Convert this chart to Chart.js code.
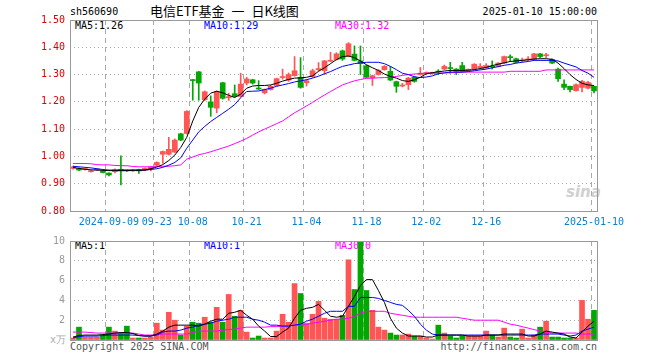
<!DOCTYPE html>
<html>
<head>
<meta charset="utf-8">
<script src="https://cdn.jsdelivr.net/npm/chart.js@4"></script>
<style>
body { margin: 0; background: #fff; }
#wrap { position: relative; width: 660px; height: 360px; overflow: hidden;
  font-family: "DejaVu Sans Mono", monospace; font-size: 10px; color: #000; }
#wrap div { position: absolute; white-space: nowrap; line-height: 12px; z-index: 0; }
canvas { position: absolute; left: 0; z-index: 1; }
</style>
</head>
<body>
<div id="wrap">
  <div style="left:70px;top:6px">sh560690</div>
  <div style="left:150px;top:3px;font-family:'Noto Sans CJK SC';font-size:13px;line-height:16px">电信ETF基金 <span style="padding:0 4px">一</span> 日K线图</div>
  <div style="right:63px;top:6px">2025-01-10 15:00:00</div>

  <div style="left:75px;top:20px">MA5:1.26</div>
  <div style="left:204px;top:20px;color:#0000ff">MA10:1.29</div>
  <div style="left:335px;top:20px;color:#ff00ff">MA30:1.32</div>

  <div style="left:75px;top:240px">MA5:1</div>
  <div style="left:204px;top:240px;color:#0000ff">MA10:1</div>
  <div style="left:335px;top:240px;color:#ff00ff">MA30:0</div>
  <div style="left:50px;top:334px;color:#aaa">x万</div>

  <div style="left:70px;top:341px;color:#555">Copyright 2025 SINA.COM</div>
  <div style="right:63px;top:341px;color:#555">http://finance.sina.com.cn</div>
  <div style="left:566px;top:186px;font-family:'DejaVu Sans';font-size:15px;font-weight:bold;font-style:italic;color:#d0d0d0">sina</div>

  <canvas id="k" width="660" height="232" style="top:0;width:660px;height:232px"></canvas>
  <canvas id="v" width="660" height="130" style="top:230px;width:660px;height:130px"></canvas>
</div>
<script>
// trading days shown on the chart
const dates = [
  '2024-08-30','2024-09-02','2024-09-03','2024-09-04','2024-09-05','2024-09-06',
  '2024-09-09','2024-09-10','2024-09-11','2024-09-12','2024-09-13',
  '2024-09-18','2024-09-19','2024-09-20',
  '2024-09-23','2024-09-24','2024-09-25','2024-09-26','2024-09-27',
  '2024-09-30',
  '2024-10-08','2024-10-09','2024-10-10','2024-10-11',
  '2024-10-14','2024-10-15','2024-10-16','2024-10-17','2024-10-18',
  '2024-10-21','2024-10-22','2024-10-23','2024-10-24','2024-10-25',
  '2024-10-28','2024-10-29','2024-10-30','2024-10-31','2024-11-01',
  '2024-11-04','2024-11-05','2024-11-06','2024-11-07','2024-11-08',
  '2024-11-11','2024-11-12','2024-11-13','2024-11-14','2024-11-15',
  '2024-11-18','2024-11-19','2024-11-20','2024-11-21','2024-11-22',
  '2024-11-25','2024-11-26','2024-11-27','2024-11-28','2024-11-29',
  '2024-12-02','2024-12-03','2024-12-04','2024-12-05','2024-12-06',
  '2024-12-09','2024-12-10','2024-12-11','2024-12-12','2024-12-13',
  '2024-12-16','2024-12-17','2024-12-18','2024-12-19','2024-12-20',
  '2024-12-23','2024-12-24','2024-12-25','2024-12-26','2024-12-27',
  '2024-12-30','2024-12-31',
  '2025-01-02','2025-01-03',
  '2025-01-06','2025-01-07','2025-01-08','2025-01-09','2025-01-10'
];

const tickDates = ['2024-09-09','2024-09-23','2024-10-08','2024-10-21','2024-11-04',
  '2024-11-18','2024-12-02','2024-12-16','2025-01-10'];
const tickText = ['2024-09-09','09-23','10-08','10-21','11-04','11-18','12-02','12-16','2025-01-10'];
const priceTickLabels = ['0.80','0.90','1.00','1.10','1.20','1.30','1.40','1.50'];
const volTickLabels = ['0','2','4','6','8','10'];

const opens = [
  0.956,0.956,0.952,0.944,0.950,0.947,0.939,0.944,0.953,0.948,
  0.947,0.952,0.950,0.955,0.968,1.008,1.008,1.016,1.083,1.084,
  1.281,1.310,1.208,1.200,1.177,1.270,1.215,1.230,1.220,1.269,
  1.281,1.250,1.233,1.245,1.260,1.289,1.280,1.296,1.290,1.270,
  1.293,1.318,1.314,1.349,1.355,1.387,1.368,1.375,1.350,1.332,
  1.288,1.300,1.318,1.312,1.274,1.258,1.263,1.290,1.300,1.304,
  1.303,1.311,1.320,1.324,1.320,1.333,1.316,1.320,1.325,1.325,
  1.330,1.330,1.342,1.364,1.358,1.350,1.354,1.356,1.376,1.369,
  1.356,1.320,1.265,1.257,1.241,1.253,1.250,1.257
];
const closes = [
  0.962,0.950,0.954,0.947,0.952,0.941,0.932,0.951,0.947,0.947,
  0.951,0.947,0.956,0.961,0.978,1.018,1.026,1.060,1.060,1.165,
  1.278,1.269,1.237,1.180,1.237,1.213,1.219,1.220,1.265,1.284,
  1.269,1.247,1.245,1.257,1.285,1.292,1.300,1.314,1.253,1.277,
  1.314,1.322,1.350,1.351,1.376,1.357,1.413,1.352,1.340,1.290,
  1.296,1.315,1.330,1.280,1.257,1.260,1.287,1.275,1.305,1.306,
  1.307,1.309,1.330,1.322,1.312,1.312,1.318,1.338,1.330,1.333,
  1.328,1.342,1.366,1.362,1.345,1.353,1.356,1.376,1.366,1.371,
  1.342,1.285,1.253,1.245,1.263,1.275,1.271,1.240
];
const highs = [
  0.965,0.958,0.956,0.949,0.954,0.948,0.940,0.955,1.002,0.950,
  0.953,0.954,0.958,0.964,0.980,1.020,1.070,1.064,1.085,1.168,
  1.282,1.312,1.240,1.222,1.240,1.272,1.232,1.262,1.305,1.290,
  1.283,1.278,1.247,1.260,1.287,1.320,1.306,1.366,1.362,1.282,
  1.320,1.344,1.352,1.382,1.380,1.390,1.417,1.405,1.405,1.335,
  1.298,1.318,1.333,1.330,1.276,1.268,1.290,1.293,1.326,1.310,
  1.309,1.318,1.335,1.345,1.322,1.345,1.320,1.340,1.340,1.340,
  1.350,1.344,1.368,1.372,1.360,1.360,1.366,1.378,1.378,1.378,
  1.358,1.324,1.281,1.258,1.266,1.279,1.275,1.258
];
const lows = [
  0.953,0.948,0.950,0.942,0.948,0.940,0.929,0.940,0.896,0.945,
  0.945,0.938,0.948,0.947,0.966,0.975,1.005,1.014,1.058,1.082,
  1.206,1.206,1.205,1.147,1.160,1.210,1.205,1.218,1.218,1.262,
  1.265,1.245,1.229,1.243,1.258,1.283,1.275,1.294,1.250,1.258,
  1.290,1.313,1.300,1.347,1.353,1.352,1.365,1.350,1.300,1.288,
  1.260,1.298,1.316,1.278,1.235,1.255,1.245,1.272,1.298,1.299,
  1.301,1.300,1.318,1.305,1.300,1.310,1.315,1.318,1.320,1.323,
  1.320,1.328,1.340,1.350,1.343,1.346,1.352,1.354,1.362,1.362,
  1.340,1.275,1.245,1.236,1.239,1.236,1.247,1.233
];

const ma5 = [
  0.960,0.956,0.953,0.951,0.950,0.949,0.948,0.948,0.948,0.948,
  0.949,0.949,0.950,0.955,0.961,0.970,0.985,1.005,1.033,1.070,
  1.130,1.180,1.210,1.232,1.239,1.233,1.224,1.216,1.228,1.250,
  1.258,1.260,1.260,1.262,1.268,1.276,1.282,1.287,1.288,1.290,
  1.295,1.312,1.325,1.340,1.355,1.366,1.368,1.362,1.350,1.336,
  1.325,1.315,1.302,1.293,1.287,1.278,1.275,1.281,1.290,1.303,
  1.307,1.310,1.313,1.315,1.315,1.315,1.316,1.318,1.322,1.326,
  1.333,1.338,1.343,1.348,1.350,1.352,1.354,1.357,1.358,1.358,
  1.356,1.342,1.322,1.300,1.282,1.268,1.262,1.260
];
const ma10 = [
  0.964,0.962,0.960,0.958,0.955,0.952,0.950,0.950,0.950,0.950,
  0.950,0.950,0.950,0.952,0.955,0.960,0.968,0.978,0.995,1.030,
  1.060,1.090,1.110,1.128,1.143,1.158,1.173,1.190,1.215,1.238,
  1.239,1.240,1.245,1.250,1.257,1.262,1.267,1.273,1.277,1.281,
  1.287,1.294,1.303,1.311,1.321,1.330,1.335,1.340,1.343,1.345,
  1.345,1.345,1.340,1.330,1.318,1.305,1.300,1.292,1.289,1.291,
  1.295,1.303,1.306,1.309,1.309,1.309,1.311,1.314,1.317,1.320,
  1.325,1.329,1.334,1.337,1.342,1.345,1.348,1.352,1.352,1.352,
  1.352,1.350,1.342,1.335,1.328,1.315,1.305,1.290
];
const ma30 = [
  0.974,0.974,0.974,0.973,0.970,0.969,0.969,0.967,0.966,0.966,
  0.963,0.962,0.962,0.962,0.963,0.964,0.964,0.966,0.969,0.990,
  0.998,1.006,1.011,1.017,1.024,1.031,1.038,1.047,1.056,1.066,
  1.078,1.090,1.100,1.110,1.120,1.130,1.145,1.160,1.172,1.185,
  1.198,1.212,1.225,1.238,1.250,1.262,1.270,1.277,1.282,1.286,
  1.287,1.288,1.289,1.290,1.293,1.297,1.300,1.302,1.304,1.305,
  1.305,1.305,1.306,1.307,1.307,1.309,1.309,1.309,1.309,1.309,
  1.309,1.309,1.309,1.312,1.312,1.312,1.312,1.312,1.312,1.317,
  1.317,1.317,1.317,1.317,1.317,1.317,1.317,1.317
];

// volume, in 10k lots
const volume = [
  0.2,1.3,0.3,0.3,0.3,0.4,1.3,0.9,0.7,1.4,
  0.2,0.2,0.2,0.3,1.7,1.0,2.8,2.0,0.5,1.4,
  1.8,1.7,2.3,1.8,3.3,1.8,4.6,2.4,3.0,0.8,
  0.2,0.4,0.2,0.2,0.9,2.6,1.8,5.7,4.7,1.7,
  2.6,3.9,2.2,2.1,2.1,2.5,8.1,5.1,10.4,5.0,
  3.0,1.3,1.0,0.7,0.5,0.5,0.6,0.4,0.4,0.2,
  0.1,1.5,0.7,0.4,0.2,0.4,0.4,0.4,0.4,0.9,
  0.5,0.3,1.2,0.3,0.2,1.1,0.2,0.5,1.3,1.9,
  0.3,0.3,0.2,0.2,0.2,4.0,2.1,3.0
];
const volMa5 = [
  0.3,0.45,0.5,0.5,0.5,0.55,0.6,0.7,0.75,0.75,
  0.65,0.45,0.4,0.4,0.6,0.9,1.3,1.5,1.5,1.5,
  1.5,1.4,1.6,1.9,2.1,2.1,2.7,2.8,3.0,2.5,
  2.1,1.4,0.9,0.35,0.35,0.8,1.2,2.2,3.0,3.2,
  3.3,3.6,3.0,2.4,2.3,2.4,3.4,4.4,5.5,6.1,
  6.1,5.0,3.8,2.2,1.2,0.7,0.4,0.4,0.4,0.3,
  0.3,0.5,0.5,0.5,0.5,0.5,0.4,0.4,0.4,0.5,
  0.5,0.5,0.6,0.6,0.6,0.6,0.4,0.4,0.6,0.9,
  0.8,0.7,0.6,0.3,0.2,0.8,1.4,1.9
];
const volMa10 = [
  0.2,0.35,0.4,0.4,0.4,0.45,0.5,0.5,0.5,0.5,
  0.5,0.45,0.4,0.4,0.5,0.8,0.9,0.9,1.0,1.2,
  1.3,1.5,1.6,1.7,1.9,2.0,2.1,2.3,2.3,2.3,
  2.1,2.0,1.8,1.5,1.5,1.4,1.4,1.5,1.6,1.9,
  2.1,2.4,2.7,2.9,2.9,2.9,3.4,3.4,4.3,4.3,
  4.3,4.2,4.0,3.8,3.6,3.5,3.0,2.4,1.6,1.0,
  0.6,0.5,0.5,0.5,0.5,0.5,0.5,0.5,0.5,0.5,
  0.5,0.5,0.5,0.5,0.5,0.5,0.5,0.5,0.6,0.6,
  0.6,0.6,0.5,0.4,0.5,0.9,1.1,1.3
];
const volMa30 = [
  0.8,0.8,0.8,0.75,0.7,0.7,0.7,0.7,0.7,0.7,
  0.7,0.6,0.5,0.5,0.55,0.6,0.6,0.6,0.6,0.6,
  0.75,0.9,0.9,0.9,0.9,1.0,1.05,1.1,1.2,1.3,
  1.3,1.3,1.3,1.35,1.35,1.4,1.45,1.5,1.5,1.55,
  1.7,1.8,1.9,2.0,2.1,2.1,2.2,2.4,2.7,2.9,
  2.9,2.9,2.9,2.7,2.6,2.5,2.4,2.3,2.3,2.3,
  2.3,2.3,2.3,2.3,2.3,2.2,2.1,2.0,2.0,2.0,
  2.0,2.0,1.8,1.6,1.5,1.35,1.2,1.05,0.9,0.8,
  0.7,0.7,0.7,0.7,0.7,0.6,0.6,0.6
];

const upColor = '#ff5555';
const downColor = '#00a800';
const candleColors = closes.map((c, i) => c >= opens[i] ? upColor : downColor);
const monoFont = { family: 'DejaVu Sans Mono', size: 10 };

// grey box round the plot area
const frame = {
  id: 'frame',
  afterDraw(chart) {
    const { ctx, chartArea: a } = chart;
    ctx.save();
    ctx.strokeStyle = '#999';
    ctx.lineWidth = 1;
    ctx.strokeRect(a.left + 0.5, a.top + 0.5, a.right - a.left, a.bottom - a.top);
    ctx.restore();
  }
};

function xAxis(showLabels) {
  return {
    type: 'category',
    offset: true,
    grid: {
      offset: true,
      drawTicks: false,
      color: c => tickDates.includes(dates[c.index]) ? '#aaa' : 'rgba(0,0,0,0)'
    },
    border: { display: false, dash: [5, 4] },
    ticks: {
      display: showLabels,
      autoSkip: false,
      maxRotation: 0,
      minRotation: 0,
      padding: 5,
      color: '#0a80d0',
      font: monoFont,
      callback: (v, i) => {
        const k = tickDates.indexOf(dates[i]);
        return k < 0 ? '' : tickText[k];
      }
    },
    afterFit: s => { s.height = showLabels ? 21 : 0; }
  };
}

function maLine(data, color) {
  return { type: 'line', data: data, borderColor: color, borderWidth: 1,
    pointRadius: 0, tension: 0, order: 0 };
}

new Chart(document.getElementById('k'), {
  type: 'bar',
  data: {
    labels: dates,
    datasets: [
      maLine(ma5, '#000'),
      maLine(ma10, '#0000ff'),
      maLine(ma30, '#ff00ff'),
      { data: opens.map((o, i) => [o, closes[i]]), backgroundColor: candleColors,
        barThickness: 5, minBarLength: 1, grouped: false, order: 1 },
      { data: lows.map((l, i) => [l, highs[i]]), backgroundColor: candleColors,
        barThickness: 1, grouped: false, order: 2 }
    ]
  },
  options: {
    responsive: false,
    animation: false,
    layout: { padding: { left: 0, right: 63, top: 20, bottom: 0 } },
    plugins: { legend: { display: false }, tooltip: { enabled: false } },
    scales: {
      x: xAxis(true),
      y: {
        min: 0.8, max: 1.5,
        afterBuildTicks: s => { s.ticks = priceTickLabels.map(t => ({ value: parseFloat(t) })); },
        grid: { color: '#aaa', drawTicks: false },
        border: { display: false, dash: [1, 3] },
        ticks: { color: '#e00000', padding: 5, font: monoFont, callback: v => v.toFixed(2) },
        afterFit: s => { s.width = 70; }
      }
    }
  },
  plugins: [frame]
});

new Chart(document.getElementById('v'), {
  type: 'bar',
  data: {
    labels: dates,
    datasets: [
      maLine(volMa5, '#000'),
      maLine(volMa10, '#0000ff'),
      maLine(volMa30, '#ff00ff'),
      { data: volume, backgroundColor: candleColors, barThickness: 5,
        grouped: false, order: 1 }
    ]
  },
  options: {
    responsive: false,
    animation: false,
    layout: { padding: { left: 0, right: 63, top: 10, bottom: 20 } },
    plugins: { legend: { display: false }, tooltip: { enabled: false } },
    scales: {
      x: xAxis(false),
      y: {
        min: 0, max: 10,
        afterBuildTicks: s => { s.ticks = volTickLabels.map(t => ({ value: parseFloat(t) })); },
        grid: { color: '#aaa', drawTicks: false },
        border: { display: false, dash: [1, 3] },
        ticks: { color: '#999', padding: 5, font: monoFont, callback: v => v === 0 ? '' : v },
        afterFit: s => { s.width = 70; }
      }
    }
  },
  plugins: [frame]
});
</script>
</body>
</html>
